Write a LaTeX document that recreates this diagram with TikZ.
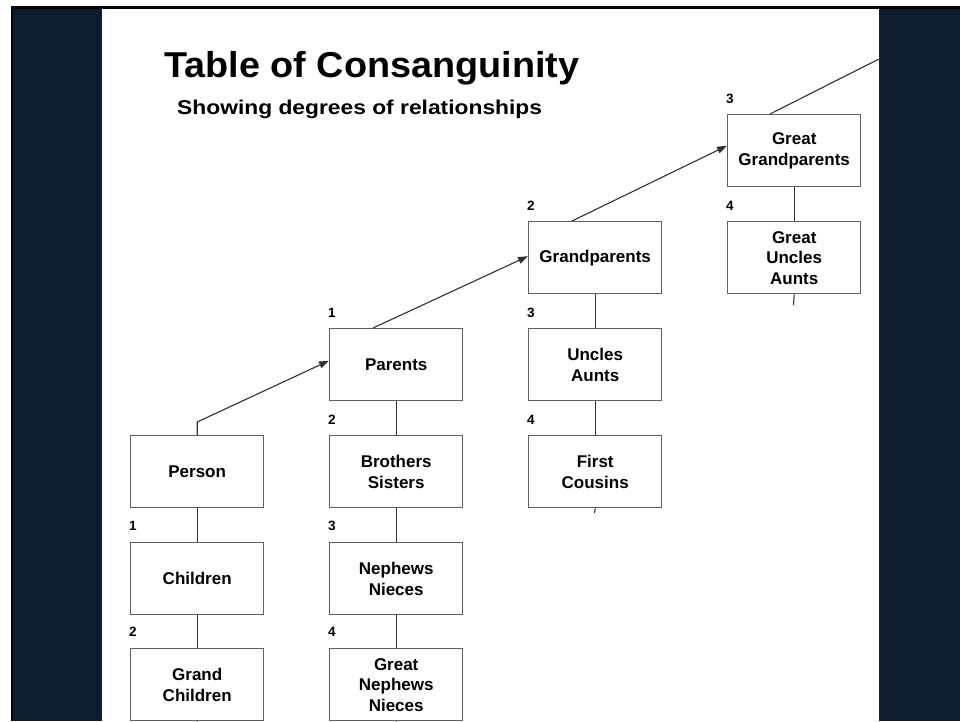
\documentclass[tikz,border=0pt]{standalone}
\usepackage{fontspec}
\setmainfont{Liberation Sans}
\usetikzlibrary{arrows.meta}
\definecolor{slate}{RGB}{14,29,45}
\definecolor{boxline}{RGB}{95,95,95}
\definecolor{wire}{RGB}{50,50,50}
\begin{document}
\begin{tikzpicture}[x=1pt,y=-1pt,
  rel/.style={draw=boxline, line width=1.4pt, fill=white, minimum width=133pt,
    minimum height=72pt, inner sep=0pt, align=center, anchor=north west,
    font=\fontsize{17}{20.5}\selectfont\bfseries},
  deg/.style={font=\fontsize{13.5}{15}\selectfont\bfseries, anchor=west, inner sep=0pt},
  link/.style={draw=wire, line width=1.1pt},
  up/.style={link, -{Triangle[length=10pt,width=7pt]}}]
\useasboundingbox (0,0) rectangle (960,721);
% slide background
\fill[white] (0,0) rectangle (960,721);
\fill[slate] (11,7) rectangle (960,721);
\draw[black, line width=2.5pt] (11,7.5) -- (960,7.5);
\draw[black, line width=2.5pt] (12,7) -- (12,721);
\fill[white] (102,9) rectangle (879,721);
% titles
\node[anchor=base west, inner sep=0pt, font=\fontsize{36}{40}\selectfont\bfseries] (title)
  at (164,77.5) {\scalebox{1.05}[1]{Table of Consanguinity}};
\node[anchor=base west, inner sep=0pt, font=\fontsize{20}{24}\selectfont\bfseries] (subtitle)
  at (177,114) {\scalebox{1.14}[1]{Showing degrees of relationships}};
% boxes
\node[rel] (person)   at (130,435) {Person};
\node[rel] (children) at (130,542) {Children};
\node[rel] (grandch)  at (130,648) {Grand\\Children};
\node[rel] (parents)  at (329,328) {Parents};
\node[rel] (siblings) at (329,435) {Brothers\\Sisters};
\node[rel] (nephews)  at (329,542) {Nephews\\Nieces};
\node[rel] (gnephews) at (329,648) {Great\\Nephews\\Nieces};
\node[rel] (grandp)   at (528,221) {Grandparents};
\node[rel] (uncles)   at (528,328) {Uncles\\Aunts};
\node[rel] (cousins)  at (528,435) {First\\Cousins};
\node[rel] (ggp)      at (727,114) {Great\\Grandparents};
\node[rel] (guncles)  at (727,221) {Great\\Uncles\\Aunts};
% degree numbers
\node[deg] (d1) at (129,526) {1};
\node[deg] (d2) at (129,632) {2};
\node[deg] (d3) at (328,313) {1};
\node[deg] (d4) at (328,420) {2};
\node[deg] (d5) at (328,526) {3};
\node[deg] (d6) at (328,632) {4};
\node[deg] (d7) at (527,206) {2};
\node[deg] (d8) at (527,313) {3};
\node[deg] (d9) at (527,420) {4};
\node[deg] (d10) at (726,99) {3};
\node[deg] (d11) at (726,206) {4};
% stub ends
\coordinate (gcend) at (196.5,724);
\coordinate (gnend) at (395.5,724);
\coordinate (fcend) at (594.5,513);
\coordinate (guend) at (793.5,305);
\coordinate (offpanel) at (879,59);
% vertical links
\draw[link] (person.south) -- (children.north);
\draw[link] (children.south) -- (grandch.north);
\draw[link] (grandch.south) -- (gcend);
\draw[link] (parents.south) -- (siblings.north);
\draw[link] (siblings.south) -- (nephews.north);
\draw[link] (nephews.south) -- (gnephews.north);
\draw[link] (gnephews.south) -- (gnend);
\draw[link] (grandp.south) -- (uncles.north);
\draw[link] (uncles.south) -- (cousins.north);
\draw[link] (cousins.south) -- (fcend);
\draw[link] (ggp.south) -- (guncles.north);
\draw[link] (guncles.south) -- (guend);
% ascending arrows
\draw[up] (person.north) -- ++(0,-13) -- ([yshift=4pt]parents.west);
\draw[up] ([xshift=44pt]parents.north west) -- ([yshift=1.5pt]grandp.west);
\draw[up] ([xshift=44pt]grandp.north west) -- ([yshift=5pt]ggp.west);
\draw[link] ([xshift=43pt]ggp.north west) -- (offpanel);
\end{tikzpicture}
\end{document}
